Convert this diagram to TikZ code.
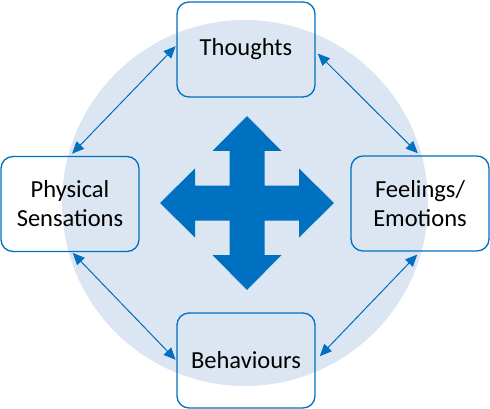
\documentclass[tikz,border=0pt]{standalone}
\usepackage{fontspec}
\setmainfont{Carlito}
\usetikzlibrary{arrows.meta}

\definecolor{cbtblue}{RGB}{0,112,192}
\definecolor{cbtpale}{RGB}{220,230,242}

\begin{document}
\begin{tikzpicture}[
  x=1pt, y=-1pt,
  font=\fontsize{24.5}{29}\selectfont,
  box/.style={draw=cbtblue, line width=1.3pt, rounded corners=12pt, align=center,
    minimum width=138pt, minimum height=95pt, inner sep=2pt},
  arr/.style={{Triangle[length=12pt,width=10.5pt]}-{Triangle[length=12pt,width=10.5pt]},
    draw=cbtblue, fill=cbtblue, line width=1pt}
]
\useasboundingbox (0,0) rectangle (490,409);

% backdrop circle and the central cross
\fill[cbtpale] (245,203) circle[radius=183pt];
\fill[cbtblue, shift={(247,203)}]
  (0,-87) -- (34.5,-52) -- (17.5,-52) -- (17.5,-17.5) -- (52,-17.5) -- (52,-34.5)
  -- (87,0) -- (52,34.5) -- (52,17.5) -- (17.5,17.5) -- (17.5,52) -- (34.5,52)
  -- (0,87) -- (-34.5,52) -- (-17.5,52) -- (-17.5,17.5) -- (-52,17.5) -- (-52,34.5)
  -- (-87,0) -- (-52,-34.5) -- (-52,-17.5) -- (-17.5,-17.5) -- (-17.5,-52) -- (-34.5,-52)
  -- cycle;

% the four boxes
\node[box] (thoughts)  at (246,49.5) {Thoughts};
\node[box] (physical)  at (70,204)   {Physical\\Sensations};
\node[box] (feelings)  at (420,203.5) {Feelings/\\Emotions};
\node[box] (behaviour) at (246,360.5) {Behaviours};

% links between them
\draw[arr, shorten <=1pt, shorten >=3pt] ([yshift=4pt]thoughts.west) -- (physical.north);
\draw[arr, shorten <=3pt, shorten >=3pt] ([yshift=-2pt]thoughts.east) -- (feelings.north);
\draw[arr, shorten <=1pt, shorten >=1pt] ([xshift=2pt]physical.south) -- (behaviour.west);
\draw[arr, shorten <=4pt, shorten >=6pt] (feelings.south) -- (behaviour.east);

\end{tikzpicture}
\end{document}
